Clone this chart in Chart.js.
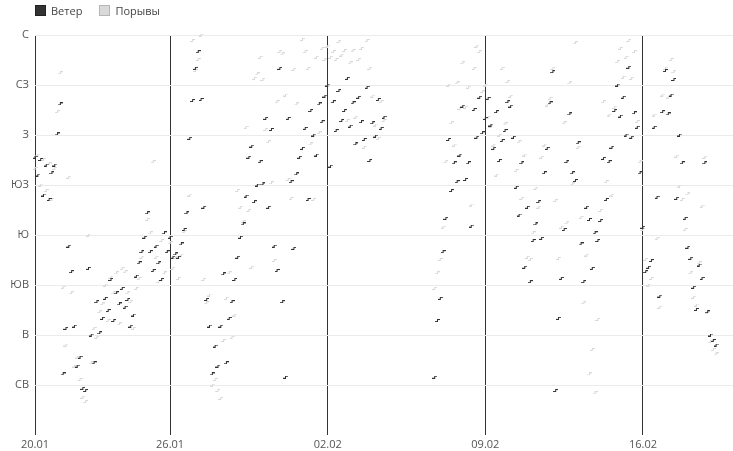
<!DOCTYPE html>
<html>
<head>
<meta charset="utf-8">
<script src="https://cdn.jsdelivr.net/npm/chart.js@4.4.1/dist/chart.umd.min.js"></script>
<style>
    body { margin: 0; background: #fff; font-family: "Open Sans", sans-serif; }
    #wrap { position: relative; width: 733px; height: 451px; }
    #legend { position: absolute; left: 35px; top: 3px; font-size: 11px; color: #444; display: flex; }
    #legend span.item { display: flex; align-items: center; margin-right: 17px; }
    #legend span.box { display: inline-block; width: 9px; height: 9px; margin-right: 5px; border: 1px solid; }
</style>
</head>
<body>
<div id="wrap">
    <div id="legend"></div>
    <canvas id="windChart" width="733" height="451"></canvas>
</div>
<script>
// Series names
const seriesNames = ['Ветер', 'Порывы'];

// Wind direction, degrees, every 3 hours from 20.01 00:00 (8 values per day)
const windDir = [
    250, 234, 248, 216, 243, 212, 236, 243,   // 20.01
    271, 298, 55, 96, 170, 147, 98, 62,
    70, 42, 40, 150, 90, 65, 120, 92,
    105, 123, 112, 140, 103, 128, 118, 132,
    115, 122, 98, 108, 143, 155, 165, 178,
    200, 165, 148, 170, 155, 140, 182, 165,
    178, 160, 163, 160, 172, 185, 200, 267,   // 26.01
    301, 330, 345, 302, 205, 122, 98, 55,
    80, 62, 98, 145, 65, 105, 120, 140,
    160, 178, 190, 215, 250, 260, 210, 225,
    246, 226, 285, 205, 275, 170, 148, 330,
    120, 52, 285, 228, 168, 235, 250, 258,
    276, 212, 292, 270, 252, 298, 282, 305,
    315, 242, 300, 274, 310, 283, 292, 321,   // 02.02
    278, 299, 262, 304, 282, 266, 313, 247,
    281, 269, 302, 276, 286, null, null, null,
    null, null, null, null, null, null, null, null,
    null, null, null, null, null, null, 52, 103,
    123, 165, 195, 266, 220, 245, 228, 252,
    296, 230, 245, 188, 293, 268, 304, 272,
    285, 303, 279, 258, 291, 247, 265, 274,   // 09.02
    300, 296, 268, 223, 198, 245, 151, 205,
    138, 175, 190, 210, 177, 236, 258, 299,
    327, 40, 105, 141, 185, 246, 289, 236,
    229, 263, 172, 138, 205, 194, 150, 182,
    175, 193, 249, 212, 246, 259, 292, 315,
    287, 304, 270, 331, 268, 290, 277, 236,
    187, 147, 151, 157, 277, 214, 125, 291,   // 16.02
    328, 289, 306, 320, 213, 270, 245, 195,
    169, 159, 133, 113, 153, 141, 245, 111,
    90, 85, 81, null, null, null, null, null
];

// Gust direction, same time steps
const gustDir = [
    240, 252, 225, 248, 220, 244, 212, 240,
    291, 326, 133, 81, 232, 128, 62, 70,
    50, 34, 30, 180, 65, 96, 88, 111,
    118, 135, 103, 142, 128, 146, 100, 150,
    147, 128, 120, 96, 132, 141, 160, 178,
    194, 182, 246, 160, 138, 175, 146, 165,
    173, 150, 160, 141, 162, 183, 200, 216,
    355, 328, 338, 360, 140, 119, 126, 45,
    50, 40, 33, 85, 123, 146, 88, 108,
    220, 205, 192, 277, 202, 151, 321, 325,
    340, 320, 275, 264, 227, 157, 300, 345,
    343, 306, 230, 213, 329, 298, 250, 356,
    345, 330, 262, 212, 340, 272, 348, 338,
    350, 340, 345, 338, 354, 342, 346, 283,
    335, 346, 286, 338, 348, 259, 355, 330,
    305, 279, 267, 300, 283, null, null, null,
    null, null, null, null, null, null, null, null,
    null, null, null, null, null, null, 132, 146,
    158, 187, 246, 315, 281, 261, 317, 294,
    335, 295, 313, 207, 330, 350, 345, 309,
    315, 286, 278, 261, 234, 270, 330, 280,
    318, 305, 268, 238, 264, 213, 252, 160,
    158, 182, 222, 205, 250, 261, 297, 303,
    330, 211, 159, 187, 281, 191, 317, 226,
    353, 259, 196, 119, 162, 55, 77, 38,
    104, 202, 300, 228, 288, 216, 295, 336,
    348, 322, 340, 355, 321, 345, 282, 246,
    185, 158, 135, 141, 288, 177, 115, 306,
    330, 304, 338, 327, 251, 224, 212, 185,
    217, 146, 124, 117, 155, 206, 250, 110,
    84, 77, 73, null, null, null, null, null
];

// X ticks: day offset from 20.01 and their labels
const dateTicks = [0, 6, 13, 20, 27];
const dateLabels = ['20.01', '26.01', '02.02', '09.02', '16.02'];

// Y ticks: compass points
const dirTicks = [45, 90, 135, 180, 225, 270, 315, 360];
const dirLabels = ['СВ', 'В', 'ЮВ', 'Ю', 'ЮЗ', 'З', 'СЗ', 'С'];

const colors = ['#333333', '#d9d9d9'];
const borders = ['#222222', '#b5b5b5'];

// Small step-shaped marker like in the original
function makeMarker(color) {
    const c = document.createElement('canvas');
    c.width = 5;
    c.height = 3;
    const ctx = c.getContext('2d');
    ctx.fillStyle = color;
    ctx.fillRect(0, 2, 2, 1);
    ctx.fillRect(2, 0, 1, 3);
    ctx.fillRect(3, 0, 2, 1);
    return c;
}

function toPoints(values) {
    const pts = [];
    values.forEach((v, i) => {
        if (v !== null) pts.push({ x: i / 8, y: v });
    });
    return pts;
}

// HTML legend
const legend = document.getElementById('legend');
seriesNames.forEach((name, i) => {
    const item = document.createElement('span');
    item.className = 'item';
    item.innerHTML = '<span class="box" style="background:' + colors[i] + ';border-color:' + borders[i] + '"></span>' + name;
    legend.appendChild(item);
});

new Chart(document.getElementById('windChart'), {
    type: 'scatter',
    data: {
        datasets: [
            { label: seriesNames[0], data: toPoints(windDir), pointStyle: makeMarker(colors[0]), clip: false },
            { label: seriesNames[1], data: toPoints(gustDir), pointStyle: makeMarker(colors[1]), clip: false }
        ]
    },
    options: {
        responsive: false,
        animation: false,
        devicePixelRatio: 1,
        layout: { autoPadding: false, padding: { top: 35, right: 0, left: 0, bottom: 0 } },
        plugins: { legend: { display: false }, tooltip: { enabled: false } },
        scales: {
            x: {
                type: 'linear',
                min: 0,
                max: 31,
                afterBuildTicks: (scale) => { scale.ticks = dateTicks.map(v => ({ value: v })); },
                afterFit: (scale) => { scale.height = 16; },
                border: { display: false },
                grid: { color: '#333333', drawTicks: false, lineWidth: 1 },
                ticks: {
                    padding: 3,
                    color: '#555',
                    font: { family: 'Open Sans', size: 11 },
                    maxRotation: 0,
                    callback: (v) => dateLabels[dateTicks.indexOf(v)]
                }
            },
            y: {
                min: 0,
                max: 360,
                afterBuildTicks: (scale) => { scale.ticks = dirTicks.map(v => ({ value: v })); },
                afterFit: (scale) => { scale.width = 35; },
                border: { display: false },
                grid: { color: '#ebebeb', drawTicks: false },
                ticks: {
                    padding: 6,
                    color: '#555',
                    font: { family: 'Open Sans', size: 11 },
                    callback: (v) => dirLabels[dirTicks.indexOf(v)]
                }
            }
        }
    }
});
</script>
</body>
</html>
